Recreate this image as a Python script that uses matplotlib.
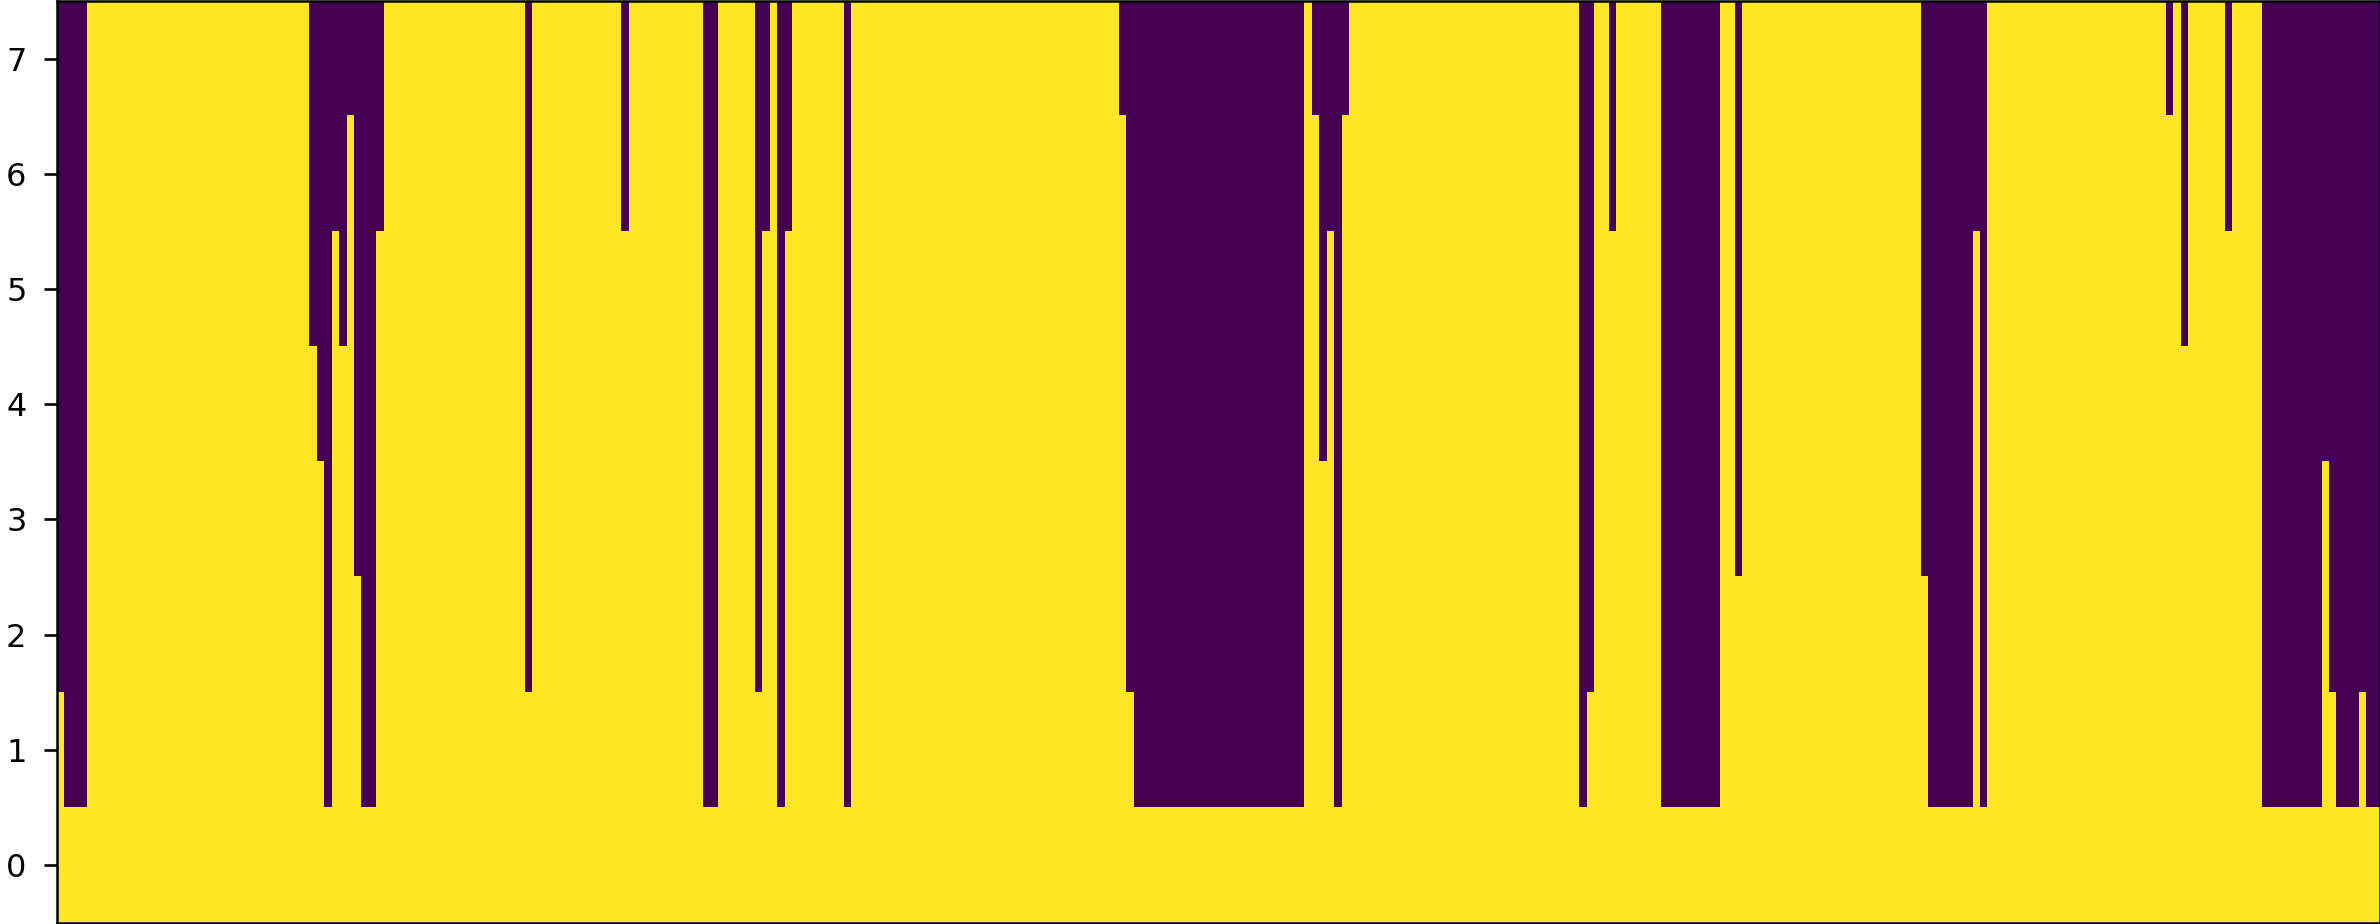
import numpy as np
import matplotlib
matplotlib.use("Agg")
import matplotlib.pyplot as plt

# Run-length description of each column's yellow height (number of cells set to 1 from row 0 upward)
run_heights = [2, 1, 8, 5, 4, 1, 6, 5, 7, 3, 1, 6, 8, 2, 8, 6, 8, 1, 8, 2, 6, 8, 1, 6, 8, 1, 8,
               7, 2, 1, 8, 7, 4, 6, 1, 7, 8, 1, 2, 8, 6, 8, 1, 8, 3, 8, 3, 1, 6, 1, 8,
               7, 8, 5, 8, 6, 8, 1, 4, 2, 1, 2, 1]
run_lengths = [1, 3, 30, 1, 1, 1, 1, 1, 1, 1, 2, 1, 19, 1, 12, 1, 10, 2, 5, 1, 1, 1, 1, 1, 7, 1, 36,
               1, 1, 23, 1, 1, 1, 1, 1, 1, 31, 1, 1, 2, 1, 6, 8, 2, 1, 24, 1,
               6, 1, 1, 24, 1, 1, 1, 5, 1, 4, 8, 1, 1, 3, 1, 2]
n_rows = 8
row_ticks = [0, 1, 2, 3, 4, 5, 6, 7]

heights = np.repeat(run_heights, run_lengths)
rows = np.arange(n_rows)[:, None]
matrix = (rows < heights[None, :]).astype(int)

dpi = 100
fig = plt.figure(figsize=(2380 / dpi, 924 / dpi), dpi=dpi)
ax = fig.add_axes([56.5 / 2380, 1.5 / 924, (2380 - 56.5) / 2380, 921.5 / 924])
ax.imshow(matrix, cmap="viridis", aspect="auto", origin="lower", interpolation="nearest")
ax.set_yticks(row_ticks)
ax.set_xticks([])
# sizes in points at 100 dpi (1 pt = 1.389 px)
ax.tick_params(axis="y", labelsize=23, length=9.6, width=1.9, pad=12)
for s in ax.spines.values():
    s.set_linewidth(1.8)
fig.savefig("out.png", dpi=dpi)
